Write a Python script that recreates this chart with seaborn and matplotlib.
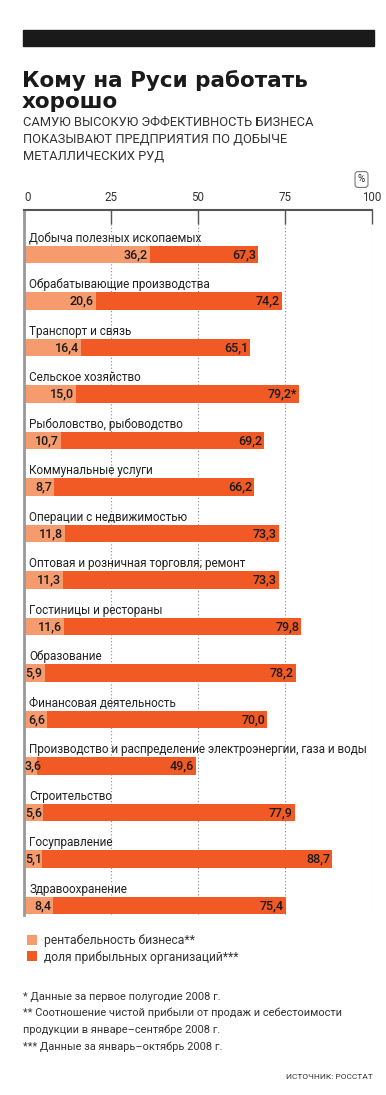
import matplotlib
matplotlib.use("Agg")
import matplotlib.pyplot as plt
from matplotlib.patches import Rectangle, Patch
import seaborn as sns

# === data ===
CATEGORIES = [
    "Добыча полезных ископаемых",
    "Обрабатывающие производства",
    "Транспорт и связь",
    "Сельское хозяйство",
    "Рыболовство, рыбоводство",
    "Коммунальные услуги",
    "Операции с недвижимостью",
    "Оптовая и розничная торговля; ремонт",
    "Гостиницы и рестораны",
    "Образование",
    "Финансовая деятельность",
    "Производство и распределение электроэнергии, газа и воды",
    "Строительство",
    "Госуправление",
    "Здравоохранение",
]
PROFITABILITY = [36.2, 20.6, 16.4, 15.0, 10.7, 8.7, 11.8, 11.3, 11.6, 5.9, 6.6, 3.6, 5.6, 5.1, 8.4]
PROFITABLE_SHARE = [67.3, 74.2, 65.1, 79.2, 69.2, 66.2, 73.3, 73.3, 79.8, 78.2, 70.0, 49.6, 77.9, 88.7, 75.4]
SHARE_MARKS = {3: "*"}  # footnote mark after value
X_TICKS = [0, 25, 50, 75, 100]

TITLE = ["Кому на Руси работать", "хорошо"]
SUBTITLE = ["САМУЮ ВЫСОКУЮ ЭФФЕКТИВНОСТЬ БИЗНЕСА",
            "ПОКАЗЫВАЮТ ПРЕДПРИЯТИЯ ПО ДОБЫЧЕ",
            "МЕТАЛЛИЧЕСКИХ РУД"]
LEGEND_LABELS = ["рентабельность бизнеса**", "доля прибыльных организаций***"]
FOOTNOTES = ["* Данные за первое полугодие 2008 г.",
             "** Соотношение чистой прибыли от продаж и себестоимости",
             "продукции в январе–сентябре 2008 г.",
             "*** Данные за январь–октябрь 2008 г."]
SOURCE = "ИСТОЧНИК: РОССТАТ"

LIGHT = "#F59B6E"
DARK = "#F15A24"
W, H = 386, 1095


def fmt(v):
    return f"{v:.1f}".replace(".", ",")


sns.set_theme(style="white")
plt.rcParams["font.family"] = ["Roboto", "DejaVu Sans"]

fig = plt.figure(figsize=(W / 100, H / 100), dpi=100)

# black band on top
fig.patches.append(Rectangle((23 / W, 1 - 46 / H), 351 / W, 16 / H,
                             transform=fig.transFigure, color="#1a1a1a"))

# title / subtitle
for i, line in enumerate(TITLE):
    fig.text(22 / W, 1 - (87 + 21 * i) / H, line, fontsize=15.5, fontweight="bold",
             family=["DejaVu Sans"], color="#1a1a1a", va="baseline")
for i, line in enumerate(SUBTITLE):
    fig.text(23 / W, 1 - (126 + 16.5 * i) / H, line, fontsize=9.3, color="#333333", va="baseline")

fig.text(361.5 / W, 1 - 179.5 / H, "%", fontsize=7, ha="center", va="center", color="#222222",
         bbox=dict(boxstyle="round,pad=0.3", fc="white", ec="#777777", lw=0.8))

# main axes
ax_top, ax_bot = 210, 915
ax = fig.add_axes([24 / W, 1 - ax_bot / H, 347.5 / W, (ax_bot - ax_top) / H])
sns.barplot(x=PROFITABLE_SHARE, y=CATEGORIES, orient="h", color=DARK, width=0.37,
            saturation=1, linewidth=0, ax=ax)
sns.barplot(x=PROFITABILITY, y=CATEGORIES, orient="h", color=LIGHT, width=0.37,
            saturation=1, linewidth=0, ax=ax)

step = 46.5
ax.set_ylim(14 + (ax_bot - 905.5) / step, -(254.5 - ax_top) / step)
ax.set_xlim(0, 100)
ax.set_yticks([])
ax.set_ylabel("")
ax.set_xlabel("")
ax.xaxis.tick_top()
ax.set_xticks(X_TICKS)
ax.set_xticklabels([str(t) for t in X_TICKS], fontsize=8.3, color="#333333")
ax.tick_params(axis="x", direction="in", length=10, width=1, color="#555555", pad=4,
               top=True, bottom=False)
ax.get_xticklabels()[0].set_ha("left")
ax.grid(axis="x", linestyle=(0, (1, 2)), color="#888888", linewidth=0.8)
ax.set_axisbelow(True)
for s in ["right", "bottom"]:
    ax.spines[s].set_visible(False)
ax.spines["top"].set_color("#555555")
ax.spines["top"].set_linewidth(1.5)
ax.spines["left"].set_color("#999999")
ax.spines["left"].set_linewidth(2)

for i, (cat, p, s) in enumerate(zip(CATEGORIES, PROFITABILITY, PROFITABLE_SHARE)):
    ax.text(1.5, i - 0.27, cat, fontsize=8.45, color="#222222", va="baseline", ha="left")
    if p >= 6:
        ax.text(p - 0.6, i, fmt(p), fontsize=9, fontweight="medium", color="#1a1a1a",
                ha="right", va="center")
    else:
        ax.text(0.3, i, fmt(p), fontsize=9, fontweight="medium", color="#1a1a1a",
                ha="left", va="center")
    ax.text(s - 0.6, i, fmt(s) + SHARE_MARKS.get(i, ""), fontsize=9, fontweight="medium",
            color="#1a1a1a", ha="right", va="center")

# legend
handles = [Patch(facecolor=LIGHT, edgecolor="none"), Patch(facecolor=DARK, edgecolor="none")]
fig.legend(handles, LEGEND_LABELS, loc="upper left", bbox_to_anchor=(16 / W, 1 - 923 / H),
           frameon=False, fontsize=8.7, handlelength=0.85, handleheight=0.85,
           handletextpad=0.6, labelspacing=0.3, labelcolor="#333333")

for i, line in enumerate(FOOTNOTES):
    fig.text(23 / W, 1 - (1000 + 16.5 * i) / H, line, fontsize=7.9, color="#333333", va="baseline")
fig.text(373 / W, 1 - 1079 / H, SOURCE, fontsize=6, color="#333333", ha="right", va="baseline")

fig.savefig("out.png", dpi=100)
